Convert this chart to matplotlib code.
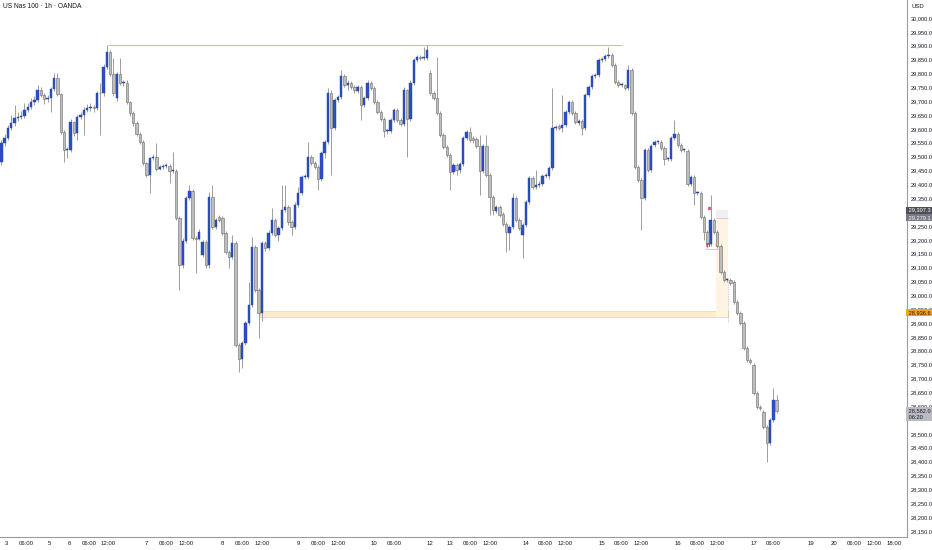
import matplotlib
matplotlib.use("Agg")
import matplotlib.pyplot as plt
from matplotlib.patches import Rectangle
import numpy as np

plt.rcParams["font.family"] = ["Liberation Sans", "DejaVu Sans"]

# hourly candles, US Nas 100 (OANDA)
opens = [
    29481, 29549, 29567, 29603, 29621, 29640, 29643, 29647, 29668, 29679,
    29697, 29704, 29740, 29722, 29708, 29712, 29744, 29784, 29726, 29589,
    29524, 29524, 29625, 29585, 29643, 29650, 29668, 29676, 29679, 29676,
    29730, 29728, 29823, 29877, 29798, 29712, 29798, 29766, 29766, 29697,
    29658, 29621, 29582, 29553, 29477, 29434, 29495, 29499, 29456, 29463,
    29466, 29466, 29448, 29448, 29279, 29109, 29196, 29351, 29376, 29207,
    29203, 29145, 29192, 29109, 29355, 29246, 29282, 29279, 29225, 29156,
    29138, 29189, 28821, 28770, 28828, 28900, 28965, 29174, 29019, 28937,
    29189, 29171, 29225, 29272, 29218, 29243, 29308, 29319, 29264, 29246,
    29326, 29369, 29427, 29427, 29499, 29477, 29463, 29420, 29513, 29553,
    29730, 29603, 29704, 29715, 29791, 29758, 29766, 29751, 29737, 29751,
    29686, 29712, 29766, 29748, 29697, 29661, 29636, 29593, 29593, 29632,
    29668, 29632, 29618, 29740, 29636, 29766, 29849, 29859, 29856, 29856,
    29802, 29730, 29712, 29658, 29578, 29535, 29506, 29445, 29470, 29452,
    29474, 29567, 29589, 29567, 29563, 29538, 29448, 29538, 29434, 29355,
    29304, 29319, 29293, 29257, 29225, 29246, 29351, 29272, 29218, 29254,
    29337, 29423, 29391, 29398, 29402, 29430, 29430, 29459, 29603, 29611,
    29603, 29614, 29661, 29697, 29658, 29622, 29628, 29603, 29722, 29751,
    29791, 29795, 29849, 29852, 29863, 29867, 29831, 29769, 29758, 29758,
    29748, 29813, 29658, 29463, 29416, 29351, 29524, 29452, 29542, 29553,
    29553, 29531, 29492, 29492, 29567, 29582, 29542, 29524, 29520, 29402,
    29427, 29369, 29369, 29282, 29228, 29185, 29272, 29228, 29178, 29084,
    29055, 29055, 29048, 28976, 28936, 28900, 28810, 28767, 28749, 28648,
    28597, 28579, 28525, 28468, 28550, 28623,
]
closes = [
    29549, 29567, 29603, 29621, 29640, 29643, 29647, 29668, 29679, 29697,
    29704, 29740, 29722, 29708, 29712, 29744, 29784, 29726, 29589, 29524,
    29524, 29625, 29585, 29643, 29650, 29668, 29676, 29679, 29676, 29730,
    29728, 29823, 29877, 29798, 29730, 29798, 29766, 29766, 29697, 29658,
    29621, 29582, 29553, 29477, 29434, 29495, 29499, 29456, 29463, 29466,
    29466, 29448, 29448, 29279, 29109, 29196, 29351, 29376, 29207, 29203,
    29228, 29192, 29109, 29355, 29246, 29272, 29272, 29225, 29156, 29138,
    29189, 28821, 28770, 28828, 28900, 28965, 29174, 29019, 28937, 29189,
    29171, 29225, 29272, 29218, 29243, 29308, 29319, 29264, 29246, 29326,
    29369, 29427, 29427, 29499, 29477, 29463, 29420, 29513, 29553, 29730,
    29603, 29704, 29715, 29791, 29758, 29766, 29751, 29740, 29751, 29686,
    29712, 29766, 29748, 29697, 29661, 29636, 29593, 29593, 29632, 29668,
    29632, 29618, 29740, 29636, 29766, 29849, 29859, 29856, 29856, 29885,
    29730, 29712, 29658, 29578, 29535, 29506, 29445, 29470, 29452, 29474,
    29567, 29589, 29560, 29560, 29538, 29448, 29538, 29434, 29355, 29308,
    29319, 29290, 29257, 29228, 29246, 29351, 29272, 29243, 29254, 29337,
    29423, 29391, 29398, 29402, 29430, 29434, 29459, 29603, 29607, 29603,
    29614, 29661, 29697, 29658, 29625, 29628, 29603, 29722, 29751, 29791,
    29795, 29849, 29852, 29863, 29867, 29831, 29769, 29758, 29758, 29748,
    29813, 29658, 29463, 29416, 29351, 29524, 29452, 29538, 29553, 29553,
    29531, 29492, 29492, 29567, 29582, 29542, 29524, 29524, 29402, 29427,
    29369, 29369, 29282, 29228, 29185, 29272, 29228, 29178, 29084, 29055,
    29055, 29045, 28976, 28936, 28900, 28810, 28767, 28760, 28648, 28597,
    28594, 28525, 28468, 28550, 28623, 28582,
]
highs = [
    29560, 29580, 29615, 29650, 29686, 29660, 29665, 29694, 29695, 29710,
    29718, 29758, 29752, 29728, 29724, 29752, 29802, 29800, 29730, 29595,
    29535, 29635, 29630, 29650, 29660, 29680, 29690, 29692, 29688, 29738,
    29766, 29835, 29903, 29885, 29856, 29805, 29856, 29775, 29775, 29702,
    29665, 29628, 29590, 29560, 29482, 29500, 29508, 29549, 29470, 29475,
    29478, 29472, 29517, 29455, 29285, 29205, 29358, 29398, 29382, 29212,
    29240, 29198, 29198, 29373, 29398, 29280, 29290, 29285, 29230, 29162,
    29218, 29195, 28828, 28835, 28908, 29048, 29210, 29180, 29025, 29196,
    29196, 29235, 29315, 29280, 29250, 29398, 29398, 29325, 29270, 29335,
    29391, 29435, 29436, 29553, 29505, 29485, 29470, 29520, 29560, 29748,
    29740, 29712, 29722, 29813, 29798, 29775, 29772, 29758, 29760, 29758,
    29720, 29777, 29772, 29755, 29703, 29668, 29642, 29600, 29640, 29676,
    29675, 29640, 29750, 29745, 29775, 29856, 29866, 29866, 29895, 29903,
    29812, 29738, 29859, 29665, 29585, 29542, 29512, 29478, 29478, 29480,
    29575, 29596, 29607, 29575, 29570, 29578, 29545, 29578, 29440, 29362,
    29326, 29326, 29300, 29265, 29252, 29369, 29358, 29280, 29262, 29345,
    29430, 29430, 29452, 29412, 29438, 29442, 29466, 29748, 29615, 29618,
    29722, 29668, 29704, 29703, 29665, 29635, 29635, 29730, 29758, 29798,
    29803, 29856, 29860, 29870, 29895, 29875, 29838, 29775, 29768, 29762,
    29831, 29820, 29665, 29470, 29422, 29530, 29530, 29545, 29560, 29560,
    29560, 29538, 29500, 29575, 29632, 29590, 29550, 29532, 29527, 29435,
    29435, 29376, 29376, 29290, 29235, 29362, 29280, 29235, 29185, 29092,
    29062, 29062, 29055, 28984, 28945, 28908, 28818, 28775, 28756, 28655,
    28605, 28586, 28532, 28558, 28666, 28640,
]
lows = [
    29470, 29540, 29560, 29595, 29612, 29630, 29635, 29640, 29660, 29672,
    29688, 29698, 29715, 29690, 29698, 29661, 29738, 29718, 29580, 29481,
    29495, 29515, 29575, 29560, 29635, 29578, 29660, 29665, 29660, 29668,
    29578, 29720, 29815, 29790, 29720, 29700, 29758, 29755, 29690, 29645,
    29610, 29575, 29545, 29470, 29425, 29369, 29488, 29448, 29450, 29455,
    29458, 29405, 29440, 29270, 29019, 29100, 29190, 29345, 29198, 29081,
    29198, 29138, 29100, 29100, 29238, 29240, 29265, 29218, 29148, 29099,
    29130, 28812, 28724, 28738, 28820, 28892, 28958, 29010, 28846, 28908,
    29160, 29165, 29218, 29210, 29195, 29236, 29300, 29255, 29218, 29238,
    29318, 29360, 29420, 29420, 29470, 29455, 29380, 29412, 29495, 29545,
    29434, 29595, 29698, 29708, 29750, 29740, 29744, 29730, 29730, 29632,
    29680, 29705, 29740, 29690, 29655, 29628, 29571, 29580, 29585, 29625,
    29625, 29610, 29610, 29499, 29628, 29760, 29842, 29848, 29848, 29850,
    29722, 29705, 29650, 29570, 29528, 29498, 29380, 29438, 29434, 29440,
    29466, 29560, 29553, 29550, 29530, 29362, 29440, 29426, 29290, 29290,
    29296, 29282, 29250, 29156, 29164, 29240, 29265, 29236, 29135, 29246,
    29330, 29383, 29385, 29390, 29395, 29422, 29420, 29450, 29595, 29595,
    29590, 29606, 29654, 29650, 29618, 29615, 29578, 29596, 29715, 29744,
    29785, 29788, 29842, 29845, 29855, 29822, 29762, 29750, 29750, 29740,
    29740, 29650, 29455, 29408, 29236, 29345, 29445, 29445, 29535, 29545,
    29524, 29470, 29485, 29485, 29560, 29535, 29517, 29516, 29395, 29395,
    29326, 29360, 29275, 29200, 29171, 29178, 29220, 29170, 29076, 29048,
    29048, 29038, 28968, 28928, 28892, 28802, 28760, 28752, 28640, 28590,
    28586, 28518, 28399, 28460, 28543, 28575,
]

# time axis labels (bar index, text)
tick_pos = [1.5, 7.5, 14.5, 20.5, 26.5, 32.5, 44, 50, 56, 67, 73, 79,
            90, 96, 102, 113, 119, 130, 136, 142, 148, 159, 165, 171,
            182, 188, 194, 205, 211, 217, 228, 234, 245.5, 252.5, 258.5,
            264.5, 270.5]
tick_txt = ["3", "06:00", "5", "6", "06:00", "12:00", "7", "06:00", "12:00",
            "8", "06:00", "12:00", "9", "06:00", "12:00", "10", "06:00",
            "12", "13", "06:00", "12:00", "14", "06:00", "12:00", "15",
            "06:00", "12:00", "16", "06:00", "12:00", "17", "06:00", "19",
            "20", "06:00", "12:00", "18:00"]

high_level = 29903        # orange line across the highs
zone_low, zone_high = 28922, 28944
box_top, box_mid = 29307.3, 29279.1
zone_tag = 28936.6
last_price = 28582.0
hidden_ticks = [29300, 28550]   # scale labels covered by the price tags

o = np.array(opens, float)
c = np.array(closes, float)
h = np.array(highs, float)
l = np.array(lows, float)
x = np.arange(len(o))

fig = plt.figure(figsize=(9.32, 5.5), dpi=100)
ax = fig.add_axes([0, 13 / 550, 907 / 932, 537 / 550])

BLUE = "#2b4fc4"
GREY = "#bdbdbd"
up = c >= o

# wicks
ax.vlines(x, l, h, color="#8e8e8e", linewidth=0.6, zorder=2)

# bodies
bottom = np.minimum(o, c)
height = np.maximum(np.abs(c - o), 3)
ax.bar(x[up], height[up], bottom=bottom[up], width=0.72,
       color=BLUE, edgecolor="#22409f", linewidth=0.3, zorder=3)
ax.bar(x[~up], height[~up], bottom=bottom[~up], width=0.72,
       color=GREY, edgecolor="#6a6a6a", linewidth=0.4, zorder=3)

# drawings
ax.hlines(high_level, 32.3, 188, color="#f7b86a", linewidth=0.8, zorder=1)
ax.add_patch(Rectangle((78.5, zone_low), 220.3 - 78.5, zone_high - zone_low,
                       facecolor="#fdebd3", edgecolor="#f8cf9c",
                       linewidth=0.5, zorder=1))
ax.add_patch(Rectangle((216.5, zone_low), 3.8, box_mid - zone_low,
                       facecolor="#fff3e3", edgecolor="none", zorder=1))
ax.add_patch(Rectangle((216.5, box_mid), 3.8, box_top - box_mid,
                       facecolor="#f0f0f2", edgecolor="none", zorder=1))
ax.hlines(box_mid, 216.5, 220.3, color="#c9c9cc", linewidth=0.6, zorder=1)
ax.plot([220.2, 220.2], [29063, 28905], linestyle=(0, (1, 1.5)),
        color="#9a9a9a", linewidth=0.5, zorder=1)
ax.plot([214.6], [29315], marker="s", markersize=1.6, color="#e35d8a",
        zorder=4)
ax.text(214.2, 29181, "n", color="#d81b60", fontsize=5, fontweight="bold",
        ha="center", va="center", zorder=4)
ax.text(216.6, 29181, "\u25b2", color="#f39c12", fontsize=2.5,
        ha="center", va="center", zorder=4, family="DejaVu Sans")
ax.hlines(29166, 213.3, 218.3, color="#f6b26b", linewidth=0.5, zorder=4)

ax.set_xlim(-0.4, 274.5)
ax.set_ylim(28128, 30065)

# axes styling
for s in ["top", "left"]:
    ax.spines[s].set_visible(False)
for s in ["right", "bottom"]:
    ax.spines[s].set_color("#9a9ca3")
    ax.spines[s].set_linewidth(0.8)

yt = np.arange(28150, 30001, 50)
ax.yaxis.tick_right()
ax.set_yticks(yt)
ax.set_yticklabels(["" if v in hidden_ticks else f"{v:,.1f}" for v in yt])
ax.tick_params(axis="y", length=0, pad=3, labelsize=4.1, labelcolor="#131722")
ax.set_xticks(tick_pos)
ax.set_xticklabels(tick_txt)
ax.tick_params(axis="x", length=0, pad=3, labelsize=4.3, labelcolor="#131722")

# price tags on the right scale
ytr = ax.get_yaxis_transform()
tags = [(box_top, f"{box_top:,.1f}", "#4e5059", "white"),
        (box_mid, f"{box_mid:,.1f}", "#777a84", "white"),
        (zone_tag, f"{zone_tag:,.1f}", "#f5a31a", "#131722")]
for yv, txt, fc, tc in tags:
    ax.text(1.0, yv, " " + txt, transform=ytr, ha="left", va="center",
            fontsize=4.1, color=tc, zorder=6, clip_on=False,
            bbox=dict(boxstyle="square,pad=0.18", facecolor=fc,
                      edgecolor="none"))
ax.text(1.0, last_price + 12, f" {last_price:,.1f}\n 06:20", transform=ytr,
        ha="left", va="top", fontsize=4.1, color="#131722", zorder=6,
        clip_on=False, linespacing=1.45,
        bbox=dict(boxstyle="square,pad=0.2", facecolor="#babcc2",
                  edgecolor="none"))

fig.text(3 / 932, 1 - 7 / 550, "US Nas 100 \u00b7 1h \u00b7 OANDA",
         fontsize=4.8, color="#131722", va="center", ha="left")
fig.text(912 / 932, 1 - 7 / 550, "USD", fontsize=4.3, color="#131722",
         va="center", ha="left")

fig.savefig("out.png", dpi=100, facecolor="white")
